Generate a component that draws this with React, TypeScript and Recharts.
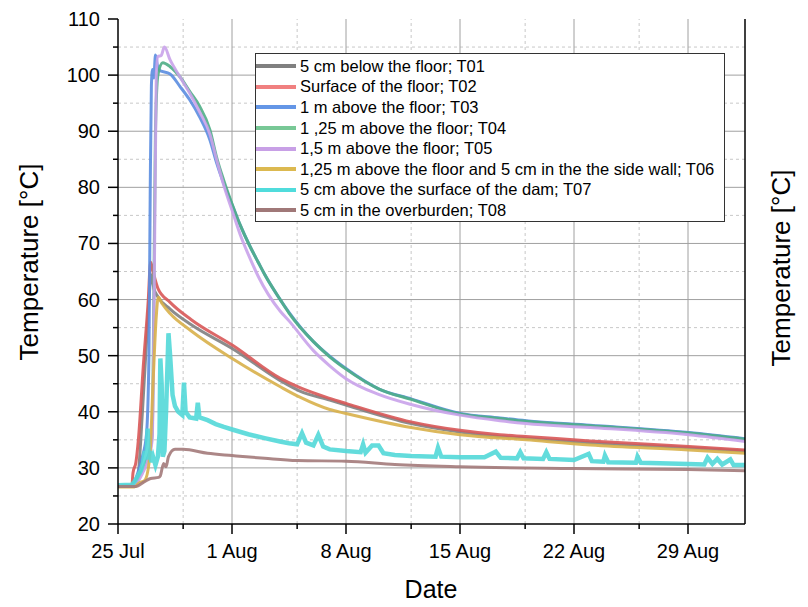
import { LineChart, Line, XAxis, YAxis, ReferenceLine, Legend, Label } from "recharts";

// days counted from 25 Jul 00:00
const t01Days = [0, 0.9, 1.2, 1.5, 1.8, 2.05, 2.2, 2.45, 3.2, 4.5, 7.06, 9.94, 11.17, 13, 14, 18, 21, 23.45, 25.05, 29, 35.05, 38.5];
const t01Temps = [26.7, 26.8, 28, 40, 55, 64.4, 62, 60.5, 58.3, 55.5, 51.2, 45.6, 43.7, 42.1, 41.2, 37.9, 36.4, 35.6, 35.3, 34.5, 33.6, 33.0];

const t02Days = [0, 0.85, 0.92, 1.1, 1.25, 1.55, 1.86, 2.0, 2.15, 2.45, 3.2, 4.5, 7.06, 9.94, 11.17, 13, 14, 18, 21, 23.45, 25.05, 29, 35.05, 38.5];
const t02Temps = [26.7, 26.8, 29.1, 31, 35, 48, 60, 66.7, 65, 62, 59.5, 56.4, 51.8, 46, 44.3, 42.4, 41.5, 38.2, 36.7, 35.9, 35.6, 34.8, 33.8, 33.2];

const t03Days = [0, 0.9, 1.2, 1.5, 1.75, 1.9, 1.98, 2.05, 2.12, 2.2, 2.3, 2.4, 2.5, 3.2, 3.8, 4.4, 5.0, 5.65, 6.05, 6.5, 7.06, 7.5, 8.1, 8.6, 9.0, 10.0, 10.5, 12, 13, 14, 16, 18, 21, 23.45, 25.05, 29, 35.05, 38.5];
const t03Temps = [26.7, 26.8, 29, 32, 36, 50, 80, 98, 101, 99.5, 103.6, 102, 100.9, 100.2, 98, 95.6, 92.6, 88.4, 84.4, 80.6, 76.5, 73.3, 69.5, 66.7, 64.5, 59.8, 57.7, 52.5, 49.9, 47.7, 44.1, 42.3, 39.7, 38.9, 38.4, 37.6, 36.3, 35.2];

const t04Days = [0, 0.9, 1.3, 1.7, 1.95, 2.1, 2.2, 2.3, 2.45, 2.75, 3.2, 3.8, 4.4, 5.0, 5.65, 6.05, 6.5, 7.06, 7.5, 8.1, 8.6, 9.0, 10.0, 10.5, 12, 13, 14, 16, 18, 21, 23.45, 25.05, 29, 35.05, 38.5];
const t04Temps = [26.7, 26.8, 28.5, 31, 33, 36, 60, 90, 100, 102.2, 101.5, 99.7, 97.1, 94.5, 90.2, 85.4, 81.2, 76.6, 73.3, 69.5, 66.7, 64.5, 59.8, 57.6, 52.5, 49.8, 47.6, 44.1, 42.2, 39.6, 38.8, 38.3, 37.5, 36.2, 35.1];

const t05Days = [0, 0.9, 1.5, 1.9, 2.1, 2.25, 2.35, 2.45, 2.65, 2.85, 3.2, 3.8, 4.4, 5.0, 5.65, 6.05, 6.5, 7.06, 7.5, 8.1, 8.6, 9.94, 10.5, 12, 13, 14, 16, 18, 21, 23.45, 25.05, 29, 35.05, 38.5];
const t05Temps = [26.7, 26.8, 29, 32, 35, 70, 100, 103.3, 103.5, 105, 102.7, 99.7, 96.8, 93.5, 89.4, 85.0, 80.3, 75.4, 71.6, 67.4, 64.2, 58.0, 56.2, 50.9, 48.2, 45.9, 43.1, 41.3, 39.4, 38.4, 37.9, 37.2, 35.9, 34.7];

const t06Days = [0, 1.0, 1.3, 1.65, 1.95, 2.15, 2.35, 2.47, 2.7, 3.2, 4.5, 7.06, 9.94, 11.17, 13, 14, 18, 21, 25.05, 29, 35.05, 38.5];
const t06Temps = [26.6, 26.6, 27.3, 27.8, 32, 45, 57, 60.4, 59.3, 57.5, 54.4, 49.4, 44.5, 42.6, 40.4, 39.7, 37.2, 35.9, 35.0, 34.1, 33.2, 32.6];

const t07Days = [0, 0.85, 1.0, 1.2, 1.4, 1.55, 1.65, 1.75, 1.82, 1.88, 1.95, 2.05, 2.15, 2.3, 2.45, 2.55, 2.6, 2.68, 2.75, 2.85, 2.95, 3.1, 3.2, 3.35, 3.5, 3.7, 3.95, 4.05, 4.15, 4.4, 4.8, 4.9, 5.0, 5.5, 6.0, 6.5, 7.06, 8, 9, 9.94, 10.5, 11.0, 11.3, 11.55, 12.0, 12.3, 12.6, 13.0, 14.0, 14.9, 15.05, 15.2, 15.6, 16.0, 16.3, 17, 18, 19.5, 19.65, 19.85, 21, 22.5, 23.2, 23.5, 24.5, 24.7, 24.9, 26.1, 26.3, 26.5, 28, 28.9, 29.1, 29.8, 29.9, 30.1, 31.8, 31.9, 32.1, 35, 36.0, 36.2, 36.5, 36.8, 37.1, 37.6, 37.8, 38.5];
const t07Temps = [26.9, 27, 27.5, 28.5, 29.5, 31, 33, 31.5, 37, 32, 33, 31, 32, 30.5, 32, 36, 49.5, 45, 32, 33, 40, 54, 50, 43, 41, 40, 39.4, 45.2, 40, 39, 38.8, 41.6, 39, 38.5, 37.8, 37.3, 36.8, 36, 35.3, 34.7, 34.4, 34.2, 36.2, 34.5, 34, 35.9, 33.8, 33.3, 33, 32.8, 34.2, 32.7, 34.0, 34.0, 32.6, 32.3, 32.1, 32, 33.6, 32, 31.9, 31.9, 32.9, 31.8, 31.7, 32.8, 31.7, 31.6, 32.8, 31.6, 31.4, 32.5, 31.2, 31.1, 32.2, 31.0, 30.9, 32.0, 30.9, 30.7, 30.6, 31.8, 30.7, 31.6, 30.6, 31.5, 30.5, 30.5];

const t08Days = [0, 1.1, 1.6, 2.0, 2.5, 2.6, 2.8, 2.95, 3.1, 3.5, 4, 5.5, 7, 9, 11, 14, 17, 21, 28, 35, 38.5];
const t08Temps = [26.7, 26.7, 27.5, 28.1, 28.3, 28.6, 30.8, 30.2, 32, 33.3, 33.3, 32.6, 32.2, 31.7, 31.3, 31.2, 30.6, 30.2, 29.9, 29.7, 29.5];

const seriesNames = [
  "5 cm below the floor; T01",
  "Surface of the floor; T02",
  "1 m above the floor; T03",
  "1 ,25 m above the floor; T04",
  "1,5 m above the floor; T05",
  "1,25 m above the floor and 5 cm in the the side wall; T06",
  "5 cm above the surface of the dam; T07",
  "5 cm in the overburden; T08",
];

const majorDays = [0, 7, 14, 21, 28, 35];
const minorDays = [4, 11, 18, 25, 32];
const dayLabels = ["25 Jul", "1 Aug", "8 Aug", "15 Aug", "22 Aug", "29 Aug"];
const majorTemps = [20, 30, 40, 50, 60, 70, 80, 90, 100, 110];
const minorTemps = [25, 35, 45, 55, 65, 75, 85, 95, 105];

const lineColors = ["#808080", "#d85858", "#5b8de0", "#4fae86", "#c9a2ea", "#d8b04a", "#52d8d8", "#a37a7a"];
const swatchColors = ["#808080", "#f08080", "#6496e6", "#78c896", "#c8a0e6", "#dcb950", "#50dcdc", "#a07878"];

const zip = (days: number[], temps: number[]) => days.map((day, i) => ({ day, temp: temps[i] }));

const series = [
  zip(t01Days, t01Temps),
  zip(t02Days, t02Temps),
  zip(t03Days, t03Temps),
  zip(t04Days, t04Temps),
  zip(t05Days, t05Temps),
  zip(t06Days, t06Temps),
  zip(t07Days, t07Temps),
  zip(t08Days, t08Temps),
];

const FONT = '"Liberation Sans", Arial, sans-serif';

function renderXTick(props: any) {
  const { x, y, payload } = props;
  const i = majorDays.indexOf(payload.value);
  if (i < 0) {
    return <line x1={x} x2={x} y1={y} y2={y + 5} stroke="#000" strokeWidth={1.5} />;
  }
  return (
    <g>
      <line x1={x} x2={x} y1={y} y2={y + 10} stroke="#000" strokeWidth={1.5} />
      <text x={x} y={y + 34} textAnchor="middle" fontSize={20} fill="#000" fontFamily={FONT}>
        {dayLabels[i]}
      </text>
    </g>
  );
}

function renderLeftTick(props: any) {
  const { x, y, payload } = props;
  if (!majorTemps.includes(payload.value)) {
    return <line x1={x - 5} x2={x} y1={y} y2={y} stroke="#000" strokeWidth={1.5} />;
  }
  return (
    <g>
      <line x1={x - 10} x2={x} y1={y} y2={y} stroke="#000" strokeWidth={1.5} />
      <text x={x - 18} y={y} textAnchor="end" dominantBaseline="central" fontSize={20} fill="#000" fontFamily={FONT}>
        {payload.value}
      </text>
    </g>
  );
}

function renderRightTick(props: any) {
  const { x, y, payload } = props;
  const len = majorTemps.includes(payload.value) ? 10 : 5;
  return <line x1={x} x2={x + len} y1={y} y2={y} stroke="#000" strokeWidth={1.5} />;
}

function LegendBox() {
  return (
    <div
      style={{
        boxSizing: "border-box",
        width: 470,
        height: 169,
        border: "1px solid #333",
        background: "#fff",
        paddingTop: 2,
        fontFamily: FONT,
      }}
    >
      {seriesNames.map((name, i) => (
        <div key={name} style={{ display: "flex", alignItems: "center", height: 20.6 }}>
          <span style={{ width: 40, height: 4, background: swatchColors[i], marginRight: 4, flex: "none" }} />
          <span style={{ fontSize: 16.5, color: "#000", whiteSpace: "nowrap" }}>{name}</span>
        </div>
      ))}
    </div>
  );
}

export default function App() {
  return (
    <div style={{ position: "fixed", left: 0, top: 0, width: 808, height: 607, background: "#fff", fontFamily: FONT }}>
      <LineChart width={808} height={607} margin={{ top: 19, right: 23, left: 58, bottom: 33 }}>
        <XAxis
          type="number"
          dataKey="day"
          domain={[0, 38.5]}
          ticks={[...majorDays, ...minorDays].sort((a, b) => a - b)}
          interval={0}
          tick={renderXTick}
          tickLine={false}
          tickSize={0}
          tickMargin={0}
          height={50}
          axisLine={{ stroke: "#000", strokeWidth: 1.5 }}
          allowDataOverflow
        >
          <Label
            content={() => (
              <text x={431} y={598} textAnchor="middle" fontSize={25} fill="#000" fontFamily={FONT}>
                Date
              </text>
            )}
          />
        </XAxis>
        <YAxis
          yAxisId="left"
          type="number"
          domain={[20, 110]}
          ticks={[...majorTemps, ...minorTemps].sort((a, b) => a - b)}
          interval={0}
          tick={renderLeftTick}
          tickLine={false}
          tickSize={0}
          tickMargin={0}
          width={60}
          axisLine={{ stroke: "#000", strokeWidth: 1.5 }}
          allowDataOverflow
        >
          <Label
            content={() => (
              <text x={38} y={262} transform="rotate(-90, 38, 262)" textAnchor="middle" fontSize={26} fill="#000" fontFamily={FONT}>
                Temperature [°C]
              </text>
            )}
          />
        </YAxis>
        <YAxis
          yAxisId="right"
          orientation="right"
          type="number"
          domain={[20, 110]}
          ticks={[...majorTemps, ...minorTemps].sort((a, b) => a - b)}
          interval={0}
          tick={renderRightTick}
          tickLine={false}
          tickSize={0}
          tickMargin={0}
          width={40}
          axisLine={{ stroke: "#000", strokeWidth: 1.5 }}
        >
          <Label
            content={() => (
              <text x={790} y={268} transform="rotate(-90, 790, 268)" textAnchor="middle" fontSize={26} fill="#000" fontFamily={FONT}>
                Temperature [°C]
              </text>
            )}
          />
        </YAxis>

        {minorDays.map((d) => (
          <ReferenceLine key={`mx${d}`} yAxisId="left" x={d} stroke="#c8c8c8" strokeDasharray="3 3" />
        ))}
        {minorTemps.map((t) => (
          <ReferenceLine key={`my${t}`} yAxisId="left" y={t} stroke="#c8c8c8" strokeDasharray="3 3" />
        ))}
        {majorDays.slice(1).map((d) => (
          <ReferenceLine key={`Mx${d}`} yAxisId="left" x={d} stroke="#a0a0a0" />
        ))}
        {majorTemps.slice(1, -1).map((t) => (
          <ReferenceLine key={`My${t}`} yAxisId="left" y={t} stroke="#a0a0a0" />
        ))}

        {series.map((data, i) => (
          <Line
            key={seriesNames[i]}
            yAxisId="left"
            data={data}
            dataKey="temp"
            name={seriesNames[i]}
            type={i === 6 ? "linear" : "monotone"}
            stroke={lineColors[i]}
            strokeWidth={i === 6 ? 4.5 : 3}
            strokeOpacity={0.9}
            dot={false}
            isAnimationActive={false}
          />
        ))}

        <Legend
          layout="vertical"
          align="center"
          verticalAlign="middle"
          wrapperStyle={{ left: 255, top: 53, width: 470, height: 169 }}
          content={() => <LegendBox />}
        />
      </LineChart>
    </div>
  );
}
